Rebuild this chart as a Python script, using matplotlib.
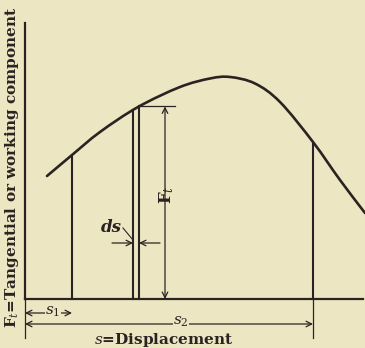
import numpy as np
import matplotlib
matplotlib.use("Agg")
import matplotlib.pyplot as plt
from matplotlib.path import Path
from matplotlib.patches import PathPatch

# Force curve: tangential component F_t against displacement s
s_curve = [22, 47, 75, 113, 155, 185, 205, 230, 255, 288, 315, 340]
f_curve = [123, 144, 167, 192, 212, 220.5, 222, 215.5, 197, 157, 119, 86]

# Ordinates drawn up to the curve
s1 = 47
ds_left, ds_right = 108, 114
s2 = 288
ft_arrow_s = 140

axis_top = 276
axis_right = 338

INK = "#2b2321"
PAPER = "#ede6c3"

plt.rcParams["font.family"] = ["DejaVu Serif"]
plt.rcParams["mathtext.fontset"] = "dejavuserif"

fig = plt.figure(figsize=(3.65, 3.48), dpi=100, facecolor=PAPER)
ax = fig.add_axes([0, 0, 1, 1])
ax.set_facecolor(PAPER)
ax.set_xlim(-25, 340)
ax.set_ylim(-49, 299)
ax.axis("off")


def smooth_path(xs, ys):
    """Catmull-Rom curve through the points, as cubic Bezier segments."""
    p = np.column_stack([xs, ys]).astype(float)
    ext = np.vstack([p[0] - (p[1] - p[0]), p, p[-1] + (p[-1] - p[-2])])
    verts = [p[0]]
    codes = [Path.MOVETO]
    for i in range(1, len(ext) - 2):
        c1 = ext[i] + (ext[i + 1] - ext[i - 1]) / 6.0
        c2 = ext[i + 1] - (ext[i + 2] - ext[i]) / 6.0
        verts += [c1, c2, ext[i + 1]]
        codes += [Path.CURVE4] * 3
    return Path(verts, codes)


curve_path = smooth_path(s_curve, f_curve)
curve_pts = curve_path.interpolated(40).vertices
order = np.argsort(curve_pts[:, 0])
curve_x, curve_y = curve_pts[order, 0], curve_pts[order, 1]


def f_at(s):
    return float(np.interp(s, curve_x, curve_y))


# curve
ax.add_patch(PathPatch(curve_path, facecolor="none", edgecolor=INK, lw=1.9,
                       capstyle="round"))

# axes
ax.plot([0, 0], [0, axis_top], color=INK, lw=1.6)
ax.plot([0, axis_right], [0, 0], color=INK, lw=1.6)
# extension lines below the s axis
ax.plot([0, 0], [0, -39], color=INK, lw=0.9)
ax.plot([s2, s2], [0, -39], color=INK, lw=0.9)

# ordinates
for s in (s1, ds_left, ds_right, s2):
    ax.plot([s, s], [0, f_at(s)], color=INK, lw=1.5)

arrow_kw = dict(color=INK, lw=0.9, shrinkA=0, shrinkB=0, mutation_scale=10)

# F_t dimension
f_top = f_at(ds_right)
ax.plot([ds_right, ds_right + 36], [f_top, f_top], color=INK, lw=0.9)
ax.annotate("", xy=(ft_arrow_s, f_top), xytext=(ft_arrow_s, 0),
            arrowprops=dict(arrowstyle="<->", **arrow_kw))
ax.text(ft_arrow_s + 2, 104, r"F$_t$", rotation=90, ha="center", va="center",
        fontsize=12, fontweight="bold", color=INK)

# ds marks
ds_y = 56
ax.annotate("", xy=(ds_left, ds_y), xytext=(ds_left - 21, ds_y),
            arrowprops=dict(arrowstyle="->", **arrow_kw))
ax.annotate("", xy=(ds_right, ds_y), xytext=(ds_right + 21, ds_y),
            arrowprops=dict(arrowstyle="->", **arrow_kw))
ax.plot([98, 108], [71, 59], color=INK, lw=0.8)
ax.text(86, 72, "ds", ha="center", va="center", fontsize=12,
        fontstyle="italic", fontweight="bold", color=INK)

# s1 and s2 dimensions
ax.annotate("", xy=(0, -14), xytext=(s1, -14),
            arrowprops=dict(arrowstyle="<->", **arrow_kw))
ax.text(28, -13, r"$s_1$", ha="center", va="center", fontsize=11, color=INK,
        bbox=dict(facecolor=PAPER, edgecolor="none", pad=0.3))
ax.annotate("", xy=(0, -25), xytext=(s2, -25),
            arrowprops=dict(arrowstyle="<->", **arrow_kw))
ax.text(156, -23, r"$s_2$", ha="center", va="center", fontsize=11, color=INK,
        bbox=dict(facecolor=PAPER, edgecolor="none", pad=0.3))

# axis titles
ax.text(-13, 132, r"F$_t$=Tangential or working component", rotation=90,
        ha="center", va="center", fontsize=11, fontweight="bold", color=INK)
ax.text(139, -41, r"$s$=Displacement", ha="center", va="center",
        fontsize=11, fontweight="bold", color=INK)

fig.savefig("out.png", dpi=100, facecolor=PAPER)
